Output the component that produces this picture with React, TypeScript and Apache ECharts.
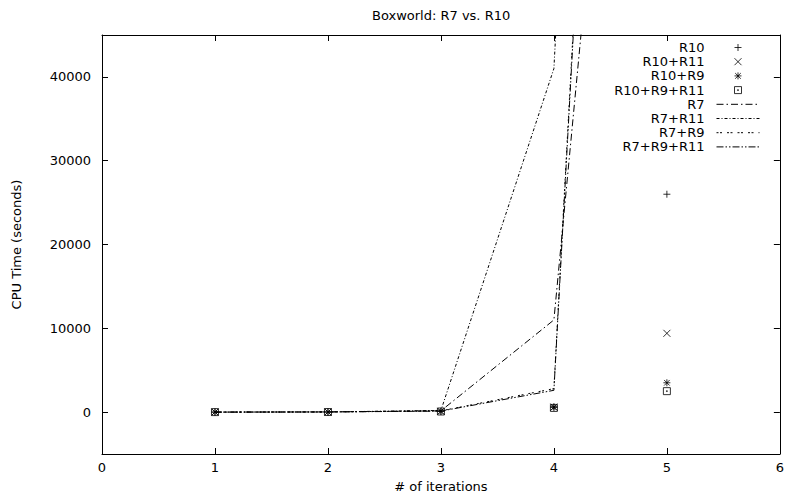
import { useEffect, useRef } from "react";
import * as echarts from "echarts";

// Iteration counts on the horizontal axis
const iterations = [1, 2, 3, 4, 5];

// CPU time (seconds) for the R10 rule sets
const r10 = [0, 10, 100, 650, 26000];
const r10r11 = [0, 10, 90, 600, 9400];
const r10r9 = [0, 10, 80, 550, 3500];
const r10r9r11 = [0, 10, 70, 500, 2500];

// CPU time (seconds) for the R7 rule sets
const r7 = [0, 20, 150, 11000, 153000];
const r7r11 = [0, 20, 200, 41000, 300000];
const r7r9 = [0, 20, 150, 2800, 254000];
const r7r9r11 = [0, 15, 120, 2600, 250000];

const FONT = "DejaVu Sans";
const FS = 13;

// gnuplot-like point glyphs
const PLUS = "path://M0,5L10,5M5,0L5,10";
const CROSS = "path://M0,0L10,10M10,0L0,10";
const STAR = "path://M0,5L10,5M5,0L5,10M1,1L9,9M9,1L1,9";
const BOXDOT = "path://M0,0L10,0L10,10L0,10Z M4.4,4.4L5.6,4.4L5.6,5.6L4.4,5.6Z";

const pairs = (ys: number[]) => iterations.map((x, i) => [x, ys[i]]);

const pointSeries = (name: string, ys: number[], symbol: string) => ({
  type: "scatter",
  name,
  data: pairs(ys),
  symbol,
  symbolSize: 7,
  z: 4,
  itemStyle: { color: "rgba(0,0,0,0)", borderColor: "#000", borderWidth: 1 },
});

const lineSeries = (name: string, ys: number[], dash: number[]) => ({
  type: "line",
  name,
  data: pairs(ys),
  symbol: "none",
  clip: true,
  z: 3,
  // transparent item style keeps the legend sample a bare dashed line
  itemStyle: { color: "rgba(0,0,0,0)", borderColor: "rgba(0,0,0,0)", borderWidth: 0 },
  lineStyle: { color: "#000", width: 1, type: dash },
});

const axisCommon = {
  type: "value",
  axisLine: { show: true, onZero: false, lineStyle: { color: "#000", width: 1 } },
  axisTick: { show: true, inside: true, length: 6, lineStyle: { color: "#000", width: 1 } },
  splitLine: { show: false },
};

const textStyle = { fontFamily: FONT, fontSize: FS, color: "#000" };

export default function App() {
  const ref = useRef<HTMLDivElement>(null);

  useEffect(() => {
    if (!ref.current) return;
    const chart = echarts.init(ref.current, undefined, { renderer: "svg" });
    chart.setOption({
      animation: false,
      backgroundColor: "#fff",
      textStyle: { fontFamily: FONT },
      title: {
        text: "Boxworld: R7 vs. R10",
        left: 372,
        top: 9,
        padding: 0,
        textStyle: { ...textStyle, fontWeight: "normal" },
      },
      grid: { left: 102, right: 7, top: 35, bottom: 45, containLabel: false },
      legend: {
        orient: "vertical",
        right: 27,
        top: 41,
        align: "right",
        padding: 0,
        itemWidth: 43,
        itemHeight: 7,
        itemGap: 1.2,
        selectedMode: false,
        itemStyle: { borderWidth: 1 },
        lineStyle: { width: 1 },
        textStyle: { ...textStyle, padding: [0, 7, 0, 0] },
        data: ["R10", "R10+R11", "R10+R9", "R10+R9+R11", "R7", "R7+R11", "R7+R9", "R7+R9+R11"],
      },
      xAxis: [
        {
          ...axisCommon,
          position: "bottom",
          min: 0,
          max: 6,
          interval: 1,
          axisLabel: { ...textStyle, margin: 7 },
          name: "# of iterations",
          nameLocation: "middle",
          nameGap: 26,
          nameTextStyle: textStyle,
        },
        {
          ...axisCommon,
          position: "top",
          min: 0,
          max: 6,
          interval: 1,
          axisLabel: { show: false },
        },
      ],
      yAxis: [
        {
          ...axisCommon,
          position: "left",
          min: -5000,
          max: 45000,
          minInterval: 10000,
          maxInterval: 10000,
          axisLabel: {
            ...textStyle,
            margin: 11,
            showMinLabel: false,
            showMaxLabel: false,
            formatter: (v: number) => (v % 10000 === 0 ? String(v) : ""),
          },
          name: "CPU Time (seconds)",
          nameLocation: "middle",
          nameRotate: 90,
          nameGap: 79,
          nameTextStyle: textStyle,
        },
        {
          ...axisCommon,
          position: "right",
          min: -5000,
          max: 45000,
          minInterval: 10000,
          maxInterval: 10000,
          axisLabel: { show: false },
        },
      ],
      series: [
        pointSeries("R10", r10, PLUS),
        pointSeries("R10+R11", r10r11, CROSS),
        pointSeries("R10+R9", r10r9, STAR),
        pointSeries("R10+R9+R11", r10r9r11, BOXDOT),
        lineSeries("R7", r7, [7, 3, 1.5, 3]),
        lineSeries("R7+R11", r7r11, [3, 2, 1, 2]),
        lineSeries("R7+R9", r7r9, [2, 1.5, 2, 5]),
        lineSeries("R7+R9+R11", r7r9r11, [7, 2, 1.5, 2, 1.5, 2]),
      ],
    });
    return () => chart.dispose();
  }, []);

  return (
    <div
      ref={ref}
      style={{ position: "fixed", left: 0, top: 0, width: 787, height: 499, background: "#fff" }}
    />
  );
}
